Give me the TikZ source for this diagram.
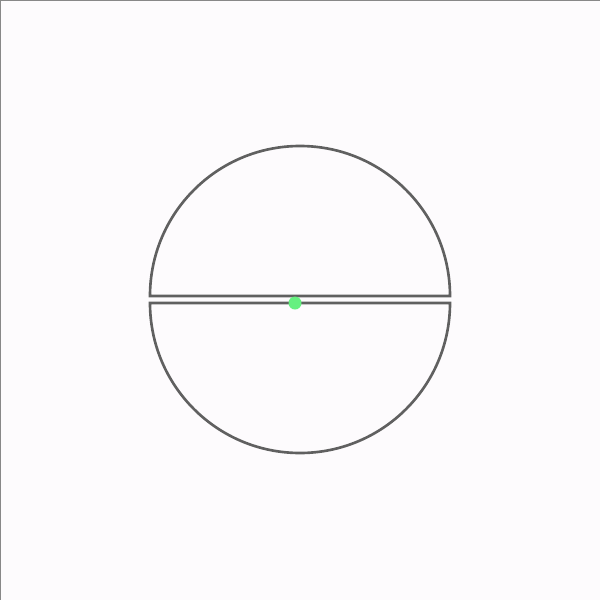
\documentclass[tikz,border=0pt]{standalone}
\usepackage{tikz}
\definecolor{pagebg}{HTML}{FDFBFD}
\definecolor{rim}{HTML}{606060}
\definecolor{frameln}{HTML}{888888}
\definecolor{dotgreen}{HTML}{66F080}
\tikzset{half/.style={draw=rim,line width=.75pt,line join=miter},dot/.style={circle,fill=dotgreen,inner sep=0pt,minimum size=.13cm}}
\begin{document}
\begin{tikzpicture}[x=.01cm,y=-.01cm]
\fill[pagebg] (0,0) rectangle (600,600);\useasboundingbox (0,0) rectangle (600,600);
\draw[frameln,line width=.3pt] (0.5,600)--(0.5,0.5)--(600,0.5);
\draw[half] (150,296) arc[start angle=180,end angle=360,radius=150] -- cycle;
\draw[half] (150,303) arc[start angle=180,end angle=0,radius=150] -- cycle;
\node[dot] (c) at (295,303) {};
\end{tikzpicture}
\end{document}
